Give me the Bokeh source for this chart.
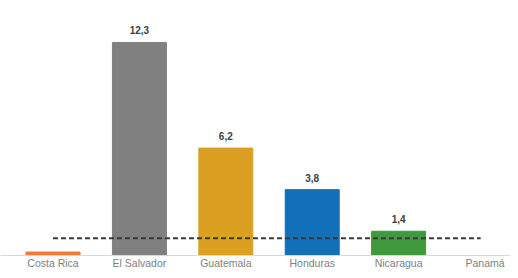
from bokeh.plotting import figure
from bokeh.models import ColumnDataSource, Range1d, LabelSet, Span
from bokeh.core.properties import value
from bokeh.embed import file_html
from bokeh.resources import INLINE

countries = ["Costa Rica", "El Salvador", "Guatemala", "Honduras", "Nicaragua", "Panamá"]
values = [0.2, 12.3, 6.2, 3.8, 1.4, 0.0]
labels = ["", "12,3", "6,2", "3,8", "1,4", ""]
colors = ["#ED7D31", "#808080", "#DB9F22", "#1270B8", "#3E9A3A", "#A5A5A5"]
threshold = 1.0

idx = list(range(len(countries)))
src = ColumnDataSource(dict(x=idx, top=values, base=[0] * len(idx), lab=labels,
                            name=countries, color=colors))

p = figure(width=510, height=270, output_backend="svg", toolbar_location=None,
           x_range=Range1d(-0.608, 5.295), y_range=Range1d(-0.866, 14.72),
           min_border_left=0, min_border_right=0, min_border_top=0, min_border_bottom=0)
p.outline_line_color = None
p.grid.visible = False
p.axis.visible = False

# baseline (category axis line)
p.add_layout(Span(location=0, dimension="width", line_color="#D9D9D9", line_width=1))

p.vbar(x="x", top="top", width=0.625, color="color", source=src)

p.line(x=[idx[0], idx[-1] - 0.05], y=[threshold, threshold], line_color="#3A3A3A",
       line_width=2, line_dash="5 3")

# value labels
p.add_layout(LabelSet(x="x", y="top", text="lab", source=src, text_align="center",
                      text_baseline="bottom", y_offset=8, text_font_size=value("10px"),
                      text_font_style=value("bold"), text_color=value("#404040"),
                      text_font=value("Liberation Sans")))

# category labels
p.add_layout(LabelSet(x="x", y="base", text="name", source=src, text_align="center",
                      text_baseline="middle", y_offset=-8, text_font_size=value("10.5px"),
                      text_color=value("#808080"), text_font=value("Liberation Sans")))

open("out.html", "w").write(file_html(p, INLINE))
